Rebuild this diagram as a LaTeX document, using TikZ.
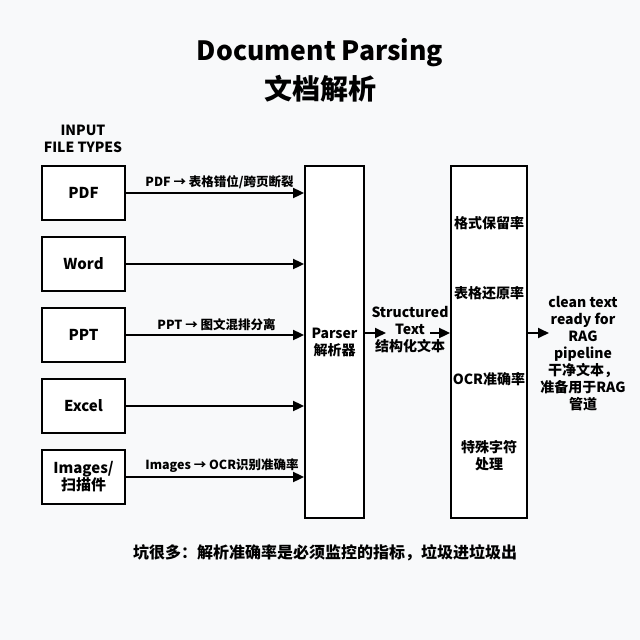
\documentclass[tikz,border=0pt]{standalone}
\usepackage{fontspec}
\setmainfont{Noto Sans CJK SC}
\usetikzlibrary{arrows.meta, positioning}
\definecolor{bgpaper}{HTML}{F8F9FA}
\begin{document}
\begin{tikzpicture}[x=1pt, y=-1pt,
  box/.style={rectangle, draw=black, line width=1.8pt, fill=white,
              minimum width=83pt, minimum height=54pt, align=center,
              font=\fontsize{15}{17}\selectfont\bfseries},
  tall/.style={rectangle, draw=black, line width=1.8pt, fill=white,
               minimum height=352pt, minimum width=#1, inner sep=0pt},
  arr/.style={-{Triangle[length=11pt, width=10pt]}, line width=1.8pt},
  lbl/.style={font=\fontsize{12.5}{14}\selectfont\bfseries, align=center},
  txt/.style={font=\fontsize{14}{17}\selectfont\bfseries, align=center}
]
\fill[bgpaper] (0,0) rectangle (640,640);
\useasboundingbox (0,0) rectangle (640,640);
\node[font=\fontsize{26.5}{30}\selectfont\bfseries] (title) at (320,53) {Document Parsing};
\node[font=\fontsize{28}{30}\selectfont\bfseries] (subtitle) at (320,89) {文档解析};
\node[font=\fontsize{14}{17}\selectfont\bfseries, align=center] (hdr) at (83,139)
  {INPUT\\FILE TYPES};
\node[box] (pdf)   at (83.5,193) {PDF};
\node[box, below=15.2pt of pdf]   (word)  {Word};
\node[box, below=15.2pt of word]  (ppt)   {PPT};
\node[box, below=15.2pt of ppt]   (excel) {Excel};
\node[box, below=15.2pt of excel] (img)   {Images/\\扫描件};
\node[tall=59pt] (parser) at (334.5,342) {};
\node[txt] at (parser.center) {Parser\\解析器};
\node[tall=76pt] (metric) at (489,342) {};
\foreach \a in {pdf, word, ppt, excel, img}
  \draw[arr] (\a.east) -- (\a.east -| parser.west);
\node[lbl, above=1pt of pdf.east, anchor=south west, xshift=16pt]   {PDF → 表格错位/跨页断裂};
\node[lbl, above=1pt of ppt.east, anchor=south west, xshift=28pt]   {PPT → 图文混排分离};
\node[lbl, above=1pt of img.east, anchor=south west, xshift=16pt]   {Images → OCR识别准确率};
\node[txt] (struct) at (410,330) {Structured\\Text\\结构化文本};
\coordinate (s1) at (386,333);
\coordinate (s2) at (430,333);
\draw[arr] (parser.east |- s1) -- (s1);
\draw[arr] (s2) -- (metric.west |- s2);
\node[txt] (m1) at (489,223) {格式保留率};
\node[txt] (m2) at (489,293) {表格还原率};
\node[txt] (m3) at (489,379) {OCR准确率};
\node[txt] (m4) at (489,456) {特殊字符\\处理};
\node[txt] (clean) at (583,354) {clean text\\ready for\\RAG\\pipeline\\干净文本，\\准备用于RAG\\管道};
\coordinate (s3) at (549,333);
\draw[arr] (metric.east |- s3) -- (s3);
\node[font=\fontsize{16}{18}\selectfont\bfseries] (foot) at (325,553)
  {坑很多：解析准确率是必须监控的指标，垃圾进垃圾出};
\end{tikzpicture}
\end{document}
